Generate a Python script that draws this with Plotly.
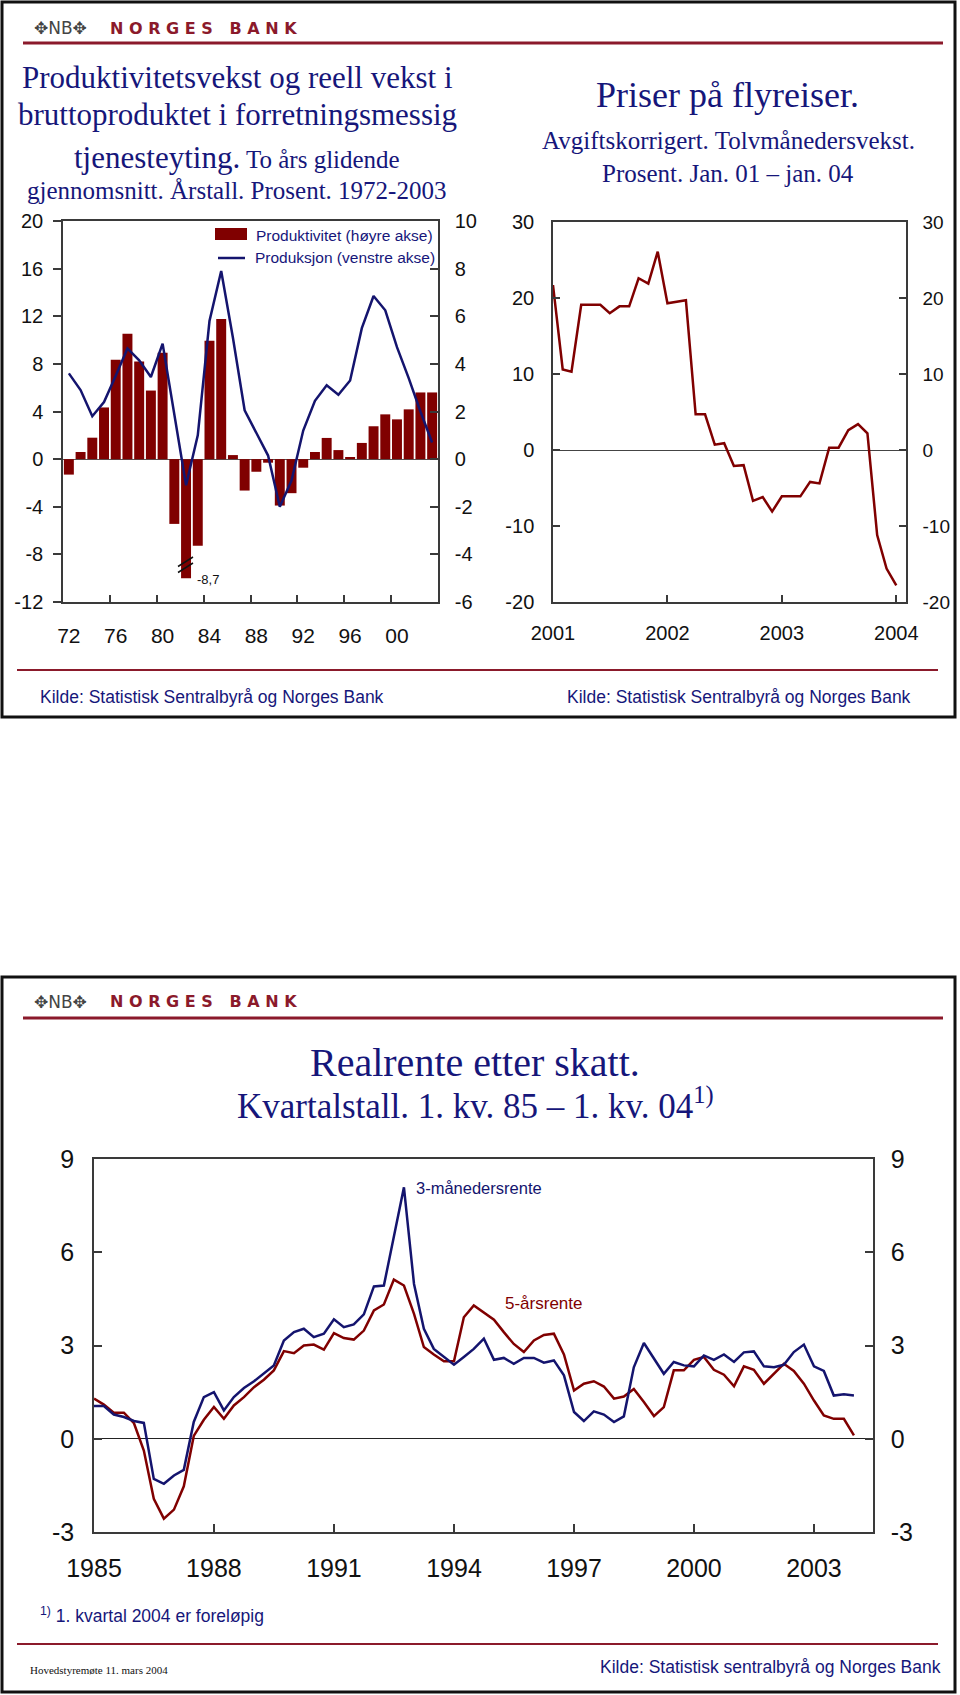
import numpy as np
import pandas as pd
import plotly.graph_objects as go

W, H = 960, 1695

# --- data -------------------------------------------------------------
# Produktivitet (høyre akse) og produksjon (venstre akse), 1972-2003
aar = list(range(1972, 2004))
produktivitet = [-0.65, 0.3, 0.9, 2.17, 4.17, 5.26, 4.1, 2.88, 4.47, -2.72,
                 -8.7, -3.64, 4.97, 5.88, 0.17, -1.32, -0.53, -0.15, -1.95, -1.43,
                 -0.36, 0.3, 0.89, 0.38, 0.09, 0.68, 1.38, 1.88, 1.67, 2.09,
                 2.8, 2.8]
produksjon = [7.2, 5.8, 3.6, 4.8, 7.0, 9.3, 8.3, 6.9, 9.7, 3.8,
              -2.2, 2.0, 11.6, 15.8, 10.2, 4.1, 2.2, 0.3, -4.0, -1.8,
              2.4, 4.9, 6.2, 5.4, 6.6, 11.0, 13.7, 12.5, 9.4, 6.8,
              4.0, 1.4]
brudd = -5.0  # søyla for 1982 (-8,7) er kuttet her
aar_ticks = [1972, 1976, 1980, 1984, 1988, 1992, 1996, 2000]
aar_text = ["72", "76", "80", "84", "88", "92", "96", "00"]
venstre_ticks = [-12, -8, -4, 0, 4, 8, 12, 16, 20]
hoyre_ticks = [-6, -4, -2, 0, 2, 4, 6, 8, 10]

# Priser på flyreiser, tolvmånedersvekst jan 01 - jan 04
fly_mnd = pd.date_range("2001-01-01", "2004-01-01", freq="MS")
flypriser = [21.7, 10.6, 10.3, 19.1, 19.1, 19.1, 18.0, 18.9, 18.9, 22.6, 21.9, 26.1,
             19.3, 19.5, 19.7, 4.7, 4.7, 0.7, 0.9, -2.1, -2.0, -6.7, -6.2, -8.1,
             -6.1, -6.1, -6.1, -4.2, -4.4, 0.3, 0.3, 2.6, 3.4, 2.2, -11.2, -15.6,
             -17.8]
fly_ticks = [-20, -10, 0, 10, 20, 30]
fly_aar = ["2001", "2002", "2003", "2004"]

# Realrente etter skatt, 1. kv. 85 - 1. kv. 04
kvartal = pd.date_range("1985-01-01", "2004-01-01", freq="QS")
rente_3mnd = [1.05, 1.05, 0.78, 0.70, 0.57, 0.51, -1.29, -1.45, -1.18, -1.0,
              0.54, 1.34, 1.50, 0.91, 1.34, 1.63, 1.85, 2.11, 2.36, 3.16,
              3.43, 3.54, 3.27, 3.38, 3.84, 3.59, 3.68,
              4.0, 4.90, 4.93, 6.5, 8.09, 4.98, 3.54, 2.89, 2.63, 2.38,
              2.63, 2.89, 3.22, 2.54, 2.60, 2.41, 2.60, 2.60, 2.45, 2.52,
              2.04, 0.86, 0.57, 0.88, 0.78, 0.54,
              0.72, 2.30, 3.08, 2.57, 2.09, 2.47, 2.36, 2.33, 2.68, 2.54,
              2.71, 2.47, 2.78, 2.81, 2.33, 2.30, 2.38, 2.79, 3.03, 2.33,
              2.18, 1.39, 1.43, 1.39]
rente_5aar = [1.29, 1.10, 0.84, 0.84, 0.50, -0.38, -1.93, -2.57, -2.28, -1.53,
              0.09, 0.61, 1.02, 0.64, 1.07, 1.34, 1.66, 1.90, 2.20, 2.82,
              2.75, 3.0, 3.03, 2.87, 3.40, 3.24, 3.19,
              3.48, 4.13, 4.32, 5.12, 4.93, 4.02, 2.95, 2.71, 2.49, 2.49,
              3.91, 4.29, 4.07, 3.83, 3.43, 3.05, 2.79, 3.16, 3.34, 3.38,
              2.71, 1.55, 1.77, 1.85, 1.68, 1.29,
              1.36, 1.60, 1.18, 0.73, 1.02, 2.20, 2.20, 2.54, 2.63, 2.22,
              2.06, 1.69, 2.33, 2.22, 1.77, 2.09, 2.41, 2.18, 1.77, 1.23,
              0.75, 0.64, 0.64, 0.11]
rente_ticks = [-3, 0, 3, 6, 9]
rente_aar = ["1985", "1988", "1991", "1994", "1997", "2000", "2003"]

# --- style ------------------------------------------------------------
NAVY = "#16167a"
BLUE = "#14146e"
RED = "#800000"
NBRED = "#8b1a2b"
AX = "#3a3a3a"
INK = "#111111"
SANS = "Liberation Sans, Arial, sans-serif"
SERIF = "Liberation Serif, Times New Roman, serif"


def px(x):
    return x / W


def py(y):
    return 1 - y / H


def txt(x, y, s, size, color=NAVY, family=SERIF, anchor="center"):
    return dict(x=px(x), y=py(y), xref="paper", yref="paper", text=s,
                showarrow=False, xanchor=anchor, yanchor="middle",
                font=dict(family=family, size=size, color=color))


def hline(x0, x1, y, color, width):
    return dict(type="line", xref="paper", yref="paper", x0=px(x0), x1=px(x1),
                y0=py(y), y1=py(y), line=dict(color=color, width=width))


def labels(vals):
    return [str(v) for v in vals]  # plain hyphen for negatives, as in the original


fig = go.Figure()

# top left: bars (right axis) + line (left axis)
fig.add_trace(go.Bar(x=aar, y=np.maximum(produktivitet, brudd), xaxis="x", yaxis="y",
                     marker=dict(color=RED, line=dict(width=0)), width=0.85))
fig.add_trace(go.Scatter(x=aar, y=produksjon, xaxis="x", yaxis="y2", mode="lines",
                         line=dict(color=BLUE, width=2.5)))
# top right; the copy on y4 is transparent, it only makes plotly draw the right axis
fig.add_trace(go.Scatter(x=fly_mnd, y=flypriser, xaxis="x2", yaxis="y3", mode="lines",
                         line=dict(color=RED, width=2.5)))
fig.add_trace(go.Scatter(x=fly_mnd, y=flypriser, xaxis="x2", yaxis="y4", mode="lines",
                         line=dict(color="rgba(0,0,0,0)", width=1), hoverinfo="skip"))
# bottom
fig.add_trace(go.Scatter(x=kvartal, y=rente_5aar, xaxis="x3", yaxis="y5", mode="lines",
                         line=dict(color=RED, width=2.5)))
fig.add_trace(go.Scatter(x=kvartal, y=rente_3mnd, xaxis="x3", yaxis="y6", mode="lines",
                         line=dict(color=BLUE, width=2.5)))

axbase = dict(showline=True, linecolor=AX, linewidth=1.5, showgrid=False,
              tickcolor=AX, tickwidth=1.5, automargin=False)

fig.update_layout(
    width=W, height=H, margin=dict(l=0, r=0, t=0, b=0, autoexpand=False),
    paper_bgcolor="white", plot_bgcolor="white", showlegend=False,
    xaxis=dict(axbase, domain=[px(63), px(438)], anchor="y", range=[1971.5, 2003.5],
               tickmode="array", tickvals=aar_ticks, ticktext=aar_text,
               ticks="", mirror=True, zeroline=False, ticklabelstandoff=14,
               tickfont=dict(family=SANS, size=21, color=INK),
               minor=dict(tickmode="array", tickvals=[y + 0.5 for y in range(1975, 2000, 4)],
                          ticks="inside", ticklen=7, tickcolor=AX, tickwidth=1.5, showgrid=False)),
    yaxis=dict(axbase, domain=[py(602), py(221)], anchor="x", side="right",
               range=[-6, 10], tickmode="array", tickvals=hoyre_ticks,
               ticktext=labels(hoyre_ticks), ticks="inside", ticklen=8,
               zeroline=True, zerolinecolor="#555555", zerolinewidth=1,
               ticklabelstandoff=11, tickfont=dict(family=SANS, size=20, color=INK)),
    yaxis2=dict(axbase, overlaying="y", anchor="x", side="left",
                range=[-12, 20], tickmode="array", tickvals=venstre_ticks,
                ticktext=labels(venstre_ticks), ticks="outside", ticklen=8, zeroline=False,
                ticklabelstandoff=6, tickfont=dict(family=SANS, size=20, color=INK)),
    xaxis2=dict(axbase, domain=[px(553), px(906)], anchor="y3", type="date",
                range=["2001-01-01", "2004-02-01"], tickmode="array",
                tickvals=[f"{a}-01-01" for a in fly_aar], ticktext=fly_aar,
                ticks="inside", ticklen=7, mirror=True, zeroline=False,
                ticklabelstandoff=12, tickfont=dict(family=SANS, size=20, color=INK)),
    yaxis3=dict(axbase, domain=[py(602), py(222)], anchor="x2", side="left",
                range=[-20, 30], tickmode="array", tickvals=fly_ticks,
                ticktext=labels(fly_ticks), ticks="inside", ticklen=7,
                zeroline=True, zerolinecolor="#444444", zerolinewidth=1,
                ticklabelstandoff=13, tickfont=dict(family=SANS, size=20, color=INK)),
    yaxis4=dict(axbase, overlaying="y3", anchor="x2", side="right",
                range=[-20, 30], tickmode="array", tickvals=fly_ticks,
                ticktext=labels(fly_ticks), ticks="inside", ticklen=7, zeroline=False,
                ticklabelstandoff=11, tickfont=dict(family=SANS, size=19, color=INK)),
    xaxis3=dict(axbase, domain=[px(94), px(873)], anchor="y5", type="date",
                range=["1985-01-01", "2004-06-23"], tickmode="array",
                tickvals=[f"{a}-01-01" for a in rente_aar], ticktext=rente_aar,
                ticks="inside", ticklen=8, mirror=True, zeroline=False,
                ticklabelstandoff=13, tickfont=dict(family=SANS, size=25, color=INK)),
    yaxis5=dict(axbase, domain=[py(1532), py(1159)], anchor="x3", side="left",
                range=[-3, 9], tickmode="array", tickvals=rente_ticks,
                ticktext=labels(rente_ticks), ticks="inside", ticklen=8,
                zeroline=True, zerolinecolor="#222222", zerolinewidth=1.2,
                ticklabelstandoff=13, tickfont=dict(family=SANS, size=25, color=INK)),
    yaxis6=dict(axbase, overlaying="y5", anchor="x3", side="right",
                range=[-3, 9], tickmode="array", tickvals=rente_ticks,
                ticktext=labels(rente_ticks), ticks="inside", ticklen=8, zeroline=False,
                ticklabelstandoff=11, tickfont=dict(family=SANS, size=25, color=INK)),
)

shapes = [
    # panel frames
    dict(type="rect", xref="paper", yref="paper", x0=px(2), x1=px(955), y0=py(2), y1=py(717),
         line=dict(color="#111111", width=3)),
    dict(type="rect", xref="paper", yref="paper", x0=px(2), x1=px(955), y0=py(977), y1=py(1692),
         line=dict(color="#111111", width=3)),
    # header / footer rules
    hline(23, 943, 43, NBRED, 3),
    hline(17, 938, 670, NBRED, 2),
    hline(23, 943, 1018, NBRED, 3),
    hline(17, 938, 1644, NBRED, 2),
    # legend swatches
    dict(type="rect", xref="paper", yref="paper", x0=px(215), x1=px(247), y0=py(240), y1=py(228),
         fillcolor=RED, line=dict(width=0)),
    hline(218, 245, 258, BLUE, 2.5),
    # break marks on 1982 bar
    dict(type="line", xref="paper", yref="paper", x0=px(178), y0=py(566.5), x1=px(193), y1=py(557),
         line=dict(color="#111111", width=1.5)),
    dict(type="line", xref="paper", yref="paper", x0=px(178), y0=py(572.5), x1=px(193), y1=py(563),
         line=dict(color="#111111", width=1.5)),
]

logo = "\u2725NB\u2725"
nb = "N O R G E S&nbsp;&nbsp;&nbsp;B A N K"
annotations = [
    # header top
    txt(32, 28, logo, 17, "#444444", "DejaVu Sans", "left"),
    txt(108, 28, "<b>" + nb + "</b>", 16, NBRED, "DejaVu Sans", "left"),
    # top left title
    txt(237, 77, "Produktivitetsvekst og reell vekst i", 31),
    txt(237, 115, "bruttoproduktet i forretningsmessig", 31),
    txt(237, 157, "tjenesteyting.<span style='font-size:25px'> To års glidende</span>", 31),
    txt(236, 190, "gjennomsnitt. Årstall. Prosent. 1972-2003", 25),
    # legend
    txt(254, 235, "Produktivitet (høyre akse)", 15.5, NAVY, SANS, "left"),
    txt(253, 258, "Produksjon (venstre akse)", 15.5, NAVY, SANS, "left"),
    txt(195, 580, "-8,7", 13, INK, SANS, "left"),
    txt(38, 697, "Kilde: Statistisk Sentralbyrå og Norges Bank", 17.5, NAVY, SANS, "left"),
    # top right title
    txt(727, 95, "Priser på flyreiser.", 36),
    txt(728, 140, "Avgiftskorrigert. Tolvmånedersvekst.", 25),
    txt(728, 173, "Prosent. Jan. 01 – jan. 04", 25),
    txt(913, 697, "Kilde: Statistisk Sentralbyrå og Norges Bank", 17.5, NAVY, SANS, "right"),
    # bottom panel
    txt(32, 1002, logo, 17, "#444444", "DejaVu Sans", "left"),
    txt(108, 1002, "<b>" + nb + "</b>", 16, NBRED, "DejaVu Sans", "left"),
    txt(475, 1062, "Realrente etter skatt.", 40),
    txt(475, 1103, "Kvartalstall. 1. kv. 85 – 1. kv. 04<sup>1)</sup>", 35),
    txt(414, 1188, "3-månedersrente", 16.5, BLUE, SANS, "left"),
    txt(503, 1303, "5-årsrente", 17, RED, SANS, "left"),
    txt(38, 1615, "<sup>1)</sup> 1. kvartal 2004 er foreløpig", 17.5, NAVY, SANS, "left"),
    txt(28, 1670, "Hovedstyremøte 11. mars 2004", 11, INK, SERIF, "left"),
    txt(943, 1667, "Kilde: Statistisk sentralbyrå og Norges Bank", 17.5, NAVY, SANS, "right"),
]

fig.update_layout(shapes=shapes, annotations=annotations)

# the page body's default 8px margin would push the 960x1695 figure out of the window
fig.write_html("out.html", config={"displayModeBar": False},
               post_script="document.body.style.margin='0';")
